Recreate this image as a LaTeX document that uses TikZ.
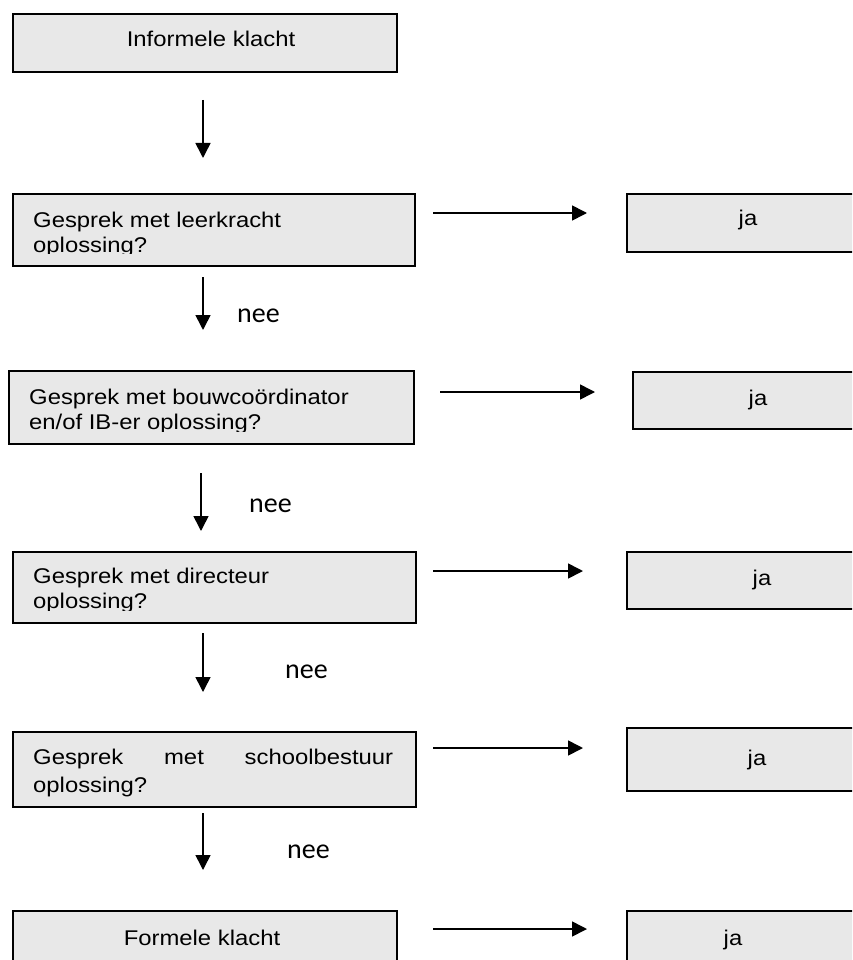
\documentclass[tikz,border=0pt]{standalone}
\usepackage{fontspec}
\setmainfont{Liberation Sans}[FakeStretch=1.12]
\newfontfamily\neefont{Carlito}
\usetikzlibrary{arrows.meta}
\definecolor{boxfill}{RGB}{232,232,232}
\begin{document}
\begin{tikzpicture}[x=1pt,y=-1pt,
  box/.style={draw=black, line width=1.6pt, fill=boxfill, inner sep=0pt, anchor=north west},
  txt/.style={font=\fontsize{21.3pt}{25pt}\selectfont, inner sep=0pt, anchor=base west},
  ctxt/.style={font=\fontsize{21.3pt}{25pt}\selectfont, inner sep=0pt, anchor=base},
  neelbl/.style={font=\neefont\fontsize{28pt}{30pt}\selectfont, inner sep=0pt, anchor=base west},
  arr/.style={line width=1.6pt, -{Triangle[length=15pt,width=15pt]}}]
\useasboundingbox (0,0) rectangle (852,960);
\clip (0,0) rectangle (852,960);
\fill[white] (0,0) rectangle (852,960);

% left column boxes
\node[box, minimum width=384pt, minimum height=58pt] (b1) at (12,13) {};
\node[box, minimum width=402pt, minimum height=72pt] (b2) at (12,193) {};
\node[box, minimum width=405pt, minimum height=73pt] (b3) at (8,370) {};
\node[box, minimum width=403pt, minimum height=71pt] (b4) at (12,551) {};
\node[box, minimum width=403pt, minimum height=75pt] (b5) at (12,731) {};
\node[box, minimum width=384pt, minimum height=70pt] (b6) at (12,910) {};

% right column boxes
\node[box, minimum width=240pt, minimum height=58pt] (j1) at (626,193) {};
\node[box, minimum width=240pt, minimum height=57pt] (j2) at (632,371) {};
\node[box, minimum width=240pt, minimum height=57pt] (j3) at (626,551) {};
\node[box, minimum width=240pt, minimum height=63pt] (j4) at (626,727) {};
\node[box, minimum width=240pt, minimum height=70pt] (j5) at (626,910) {};

% texts
\node[ctxt] (t1) at (211,47) {Informele klacht};
\begin{scope}
  \clip (12,193) rectangle (414,253);
  \node[txt] (t2a) at (33,227) {Gesprek met leerkracht};
  \node[txt] (t2b) at (33,252) {oplossing?};
\end{scope}
\begin{scope}
  \clip (8,370) rectangle (413,431);
  \node[txt] (t3a) at (29,404) {Gesprek met bouwcoördinator};
  \node[txt] (t3b) at (29,429) {en/of IB-er oplossing?};
\end{scope}
\begin{scope}
  \clip (12,551) rectangle (415,610);
  \node[txt] (t4a) at (33,583) {Gesprek met directeur};
  \node[txt] (t4b) at (33,608) {oplossing?};
\end{scope}
\node[txt] (t5a) at (33,764) {\hbox to 360pt{Gesprek\hfill met\hfill schoolbestuur}};
\node[txt] (t5b) at (33,792) {oplossing?};
\node[ctxt] (t6) at (202,945) {Formele klacht};

\node[ctxt] (ja1) at (748,225) {ja};
\node[ctxt] (ja2) at (758,405) {ja};
\node[ctxt] (ja3) at (762,585) {ja};
\node[ctxt] (ja4) at (757,765) {ja};
\node[ctxt] (ja5) at (733,945) {ja};

% vertical arrows
\coordinate (a1s) at (203,100); \coordinate (a1e) at (203,158);
\coordinate (a2s) at (203,277); \coordinate (a2e) at (203,330);
\coordinate (a3s) at (201,473); \coordinate (a3e) at (201,531);
\coordinate (a4s) at (203,633); \coordinate (a4e) at (203,692);
\coordinate (a5s) at (203,813); \coordinate (a5e) at (203,870);
\draw[arr] (a1s) -- (a1e);
\draw[arr] (a2s) -- (a2e);
\draw[arr] (a3s) -- (a3e);
\draw[arr] (a4s) -- (a4e);
\draw[arr] (a5s) -- (a5e);

\node[neelbl] (n1) at (237,322) {nee};
\node[neelbl] (n2) at (249,512) {nee};
\node[neelbl] (n3) at (285,678) {nee};
\node[neelbl] (n4) at (287,858) {nee};

% horizontal arrows
\coordinate (r1s) at (433,213); \coordinate (r1e) at (587,213);
\coordinate (r2s) at (440,392); \coordinate (r2e) at (595,392);
\coordinate (r3s) at (433,571); \coordinate (r3e) at (583,571);
\coordinate (r4s) at (433,748); \coordinate (r4e) at (583,748);
\coordinate (r5s) at (433,929); \coordinate (r5e) at (587,929);
\draw[arr] (r1s) -- (r1e);
\draw[arr] (r2s) -- (r2e);
\draw[arr] (r3s) -- (r3e);
\draw[arr] (r4s) -- (r4e);
\draw[arr] (r5s) -- (r5e);
\end{tikzpicture}
\end{document}
